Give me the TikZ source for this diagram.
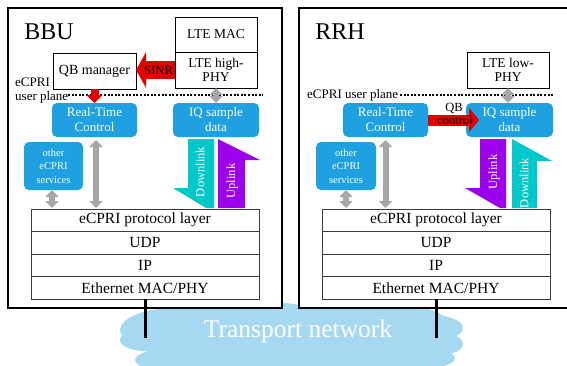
\documentclass[tikz,border=0pt]{standalone}
\usepackage{fontspec}
\setmainfont{Liberation Serif}
\usetikzlibrary{arrows.meta,calc}
\definecolor{boxblue}{RGB}{30,160,225}
\definecolor{cloudblue}{RGB}{166,216,242}
\definecolor{arrred}{RGB}{228,0,0}
\definecolor{arrgray}{RGB}{166,166,166}
\definecolor{dlcyan}{RGB}{0,200,200}
\definecolor{ulpurple}{RGB}{155,0,235}
\definecolor{layergray}{RGB}{60,60,60}
\tikzset{
  outerbox/.style={draw, line width=1.2pt, fill=white, inner sep=0pt, outer sep=0pt},
  whitebox/.style={draw, line width=0.9pt, fill=white, inner sep=0pt, outer sep=0pt, align=center, font=\fontsize{13.5}{14}\selectfont},
  bluebox/.style={fill=boxblue, rounded corners=5pt, text=white, align=center, inner sep=0pt, outer sep=0pt, font=\fontsize{13}{15}\selectfont},
  smallblue/.style={bluebox, font=\fontsize{10.5}{13.5}\selectfont},
  layer/.style={draw=layergray, line width=0.9pt, fill=white, minimum width=228pt, minimum height=22.5pt, inner sep=0pt, outer sep=0pt, font=\fontsize{15.5}{17}\selectfont},
  grayarr/.style={line width=6pt, draw=arrgray, {Triangle[width=13pt,length=7pt]}-{Triangle[width=13pt,length=7pt]}},
  dotline/.style={line width=1.4pt, dash pattern=on 2pt off 1.6pt},
  lbl/.style={inner sep=0pt, font=\fontsize{13}{15}\selectfont},
  rotlbl/.style={inner sep=0pt, rotate=90, text=white, font=\fontsize{12.5}{14}\selectfont},
}
\begin{document}
\begin{tikzpicture}[x=1pt,y=-1pt]
\useasboundingbox (0,0) rectangle (567,365);
\clip (0,0) rectangle (567,365);

% cloud
\begin{scope}
\fill[cloudblue] (175,330) ellipse [x radius=55pt, y radius=22pt];
\fill[cloudblue] (145,340) ellipse [x radius=25pt, y radius=11pt];
\fill[cloudblue] (250,322) ellipse [x radius=85pt, y radius=21pt];
\fill[cloudblue] (365,320) ellipse [x radius=80pt, y radius=18pt];
\fill[cloudblue] (425,328) ellipse [x radius=38pt, y radius=14pt];
\fill[cloudblue] (440,344) ellipse [x radius=23pt, y radius=11pt];
\fill[cloudblue] (300,345) ellipse [x radius=150pt, y radius=25pt];
\fill[cloudblue] (200,360) ellipse [x radius=65pt, y radius=15pt];
\fill[cloudblue] (385,358) ellipse [x radius=70pt, y radius=15pt];
\end{scope}

% outer boxes
\node[outerbox, minimum width=274pt, minimum height=300pt] (bbu) at (145,158) {};
\node[outerbox, minimum width=310pt, minimum height=300pt] (rrh) at (454,158) {};
\node[inner sep=0pt, font=\fontsize{24}{26}\selectfont] (bbulbl) at (49,32) {BBU};
\node[inner sep=0pt, font=\fontsize{24}{26}\selectfont] (rrhlbl) at (340,32) {RRH};

% ---------- BBU ----------
\node[whitebox, minimum width=82pt, minimum height=35pt] (mac) at (216,34.5) {LTE MAC};
\node[whitebox, minimum width=82pt, minimum height=36pt] (hp) at (216,70) {LTE high-\\PHY};
\node[whitebox, minimum width=83pt, minimum height=36pt, font=\fontsize{14}{15}\selectfont] (qb) at (94.5,71) {QB manager};

\node[lbl, anchor=west] (uplA) at (15,82) {eCPRI};
\node[lbl, anchor=west] (uplB) at (15,97) {user plane};
\coordinate (dA1) at (68,95);
\coordinate (dA2) at (263,95);
\draw[dotline] (dA1) -- (dA2);

\node[bluebox, minimum width=85pt, minimum height=34pt] (rtc) at (94.5,120) {Real-Time\\Control};
\node[bluebox, minimum width=86pt, minimum height=34pt] (iq) at (216,120) {IQ sample\\data};
\node[smallblue, minimum width=59pt, minimum height=48pt] (oth) at (53.5,166) {other\\eCPRI\\services};

\node[layer] (l1) at (145,220.25) {eCPRI protocol layer};
\node[layer] (l2) at (145,242.75) {UDP};
\node[layer] (l3) at (145,265.25) {IP};
\node[layer] (l4) at (145,287.75) {Ethernet MAC/PHY};

\draw[grayarr] (hp.south) -- (iq.north);
\draw[grayarr] ([xshift=1.5pt,yshift=-3pt]rtc.south) -- ([xshift=1.5pt,yshift=1pt]rtc.south |- l1.north);
\draw[grayarr] ([xshift=-1.5pt]oth.south) -- ([xshift=-1.5pt,yshift=1pt]oth.south |- l1.north);

\draw[line width=8pt, arrred, -{Triangle[width=16pt,length=8pt]}] (qb.south) -- (rtc.north);
\draw[line width=18pt, arrred, -{Triangle[width=35pt,length=10pt]}] (hp.west) -- (hp.west -| qb.east)
  node[pos=0.42, inner sep=0pt, text=black, font=\fontsize{12.5}{14}\selectfont] (sinr) {SINR};

% downlink / uplink BBU
\fill[dlcyan] (188,139) -- (214,139) -- (214,208) -- (206,208) -- (173,188) -- (188,188) -- cycle;
\fill[ulpurple] (218,208) -- (218,139) -- (260,160) -- (245,160) -- (245,208) -- cycle;
\node[rotlbl] (dlA) at (200,172) {Downlink};
\node[rotlbl] (ulA) at (232,181) {Uplink};

% ---------- RRH ----------
\node[whitebox, minimum width=82pt, minimum height=36pt] (lp) at (508,70) {LTE low-\\PHY};
\node[lbl, anchor=west] (uplR) at (307,95) {eCPRI user plane};
\coordinate (dB1) at (400,95);
\coordinate (dB2) at (553,95);
\draw[dotline] (dB1) -- (dB2);

\node[bluebox, minimum width=85pt, minimum height=34pt] (rtcR) at (385.5,120) {Real-Time\\Control};
\node[bluebox, minimum width=87pt, minimum height=34pt] (iqR) at (509.5,120) {IQ sample\\data};
\node[smallblue, minimum width=60pt, minimum height=48pt] (othR) at (346,166) {other\\eCPRI\\services};

\node[layer] (r1) at (436,220.25) {eCPRI protocol layer};
\node[layer] (r2) at (436,242.75) {UDP};
\node[layer] (r3) at (436,265.25) {IP};
\node[layer] (r4) at (436,287.75) {Ethernet MAC/PHY};

\draw[grayarr] (lp.south) -- (lp.south |- iqR.north);
\draw[grayarr] ([yshift=-3pt]rtcR.south) -- ([yshift=1pt]rtcR.south |- r1.north);
\draw[grayarr] (othR.south) -- ([yshift=1pt]othR.south |- r1.north);

\coordinate (qbtip) at ([xshift=13pt]iqR.west);
\draw[line width=11pt, arrred, -{Triangle[width=24pt,length=10pt]}] (rtcR.east) -- (qbtip);
\node[inner sep=0pt, font=\fontsize{12.5}{14}\selectfont] (qbA) at (454,108) {QB};
\node[inner sep=0pt, font=\fontsize{12.5}{14}\selectfont] (qbB) at (455,120) {control};

\fill[ulpurple] (480,139) -- (506,139) -- (506,208) -- (500,208) -- (465,188) -- (480,188) -- cycle;
\fill[dlcyan] (512,208) -- (512,139) -- (552,161) -- (537,161) -- (537,208) -- cycle;
\node[rotlbl] (ulB) at (494,172) {Uplink};
\node[rotlbl] (dlB) at (524,183) {Downlink};

% links to transport network
\coordinate (tA) at (145,338);
\coordinate (tB) at (436,338);
\draw[line width=3pt] (l4.south) -- (tA);
\draw[line width=3pt] (r4.south) -- (tB);

\node[inner sep=0pt, text=white, font=\fontsize{25.5}{28}\selectfont] (tn) at (298,331) {Transport network};
\end{tikzpicture}
\end{document}
